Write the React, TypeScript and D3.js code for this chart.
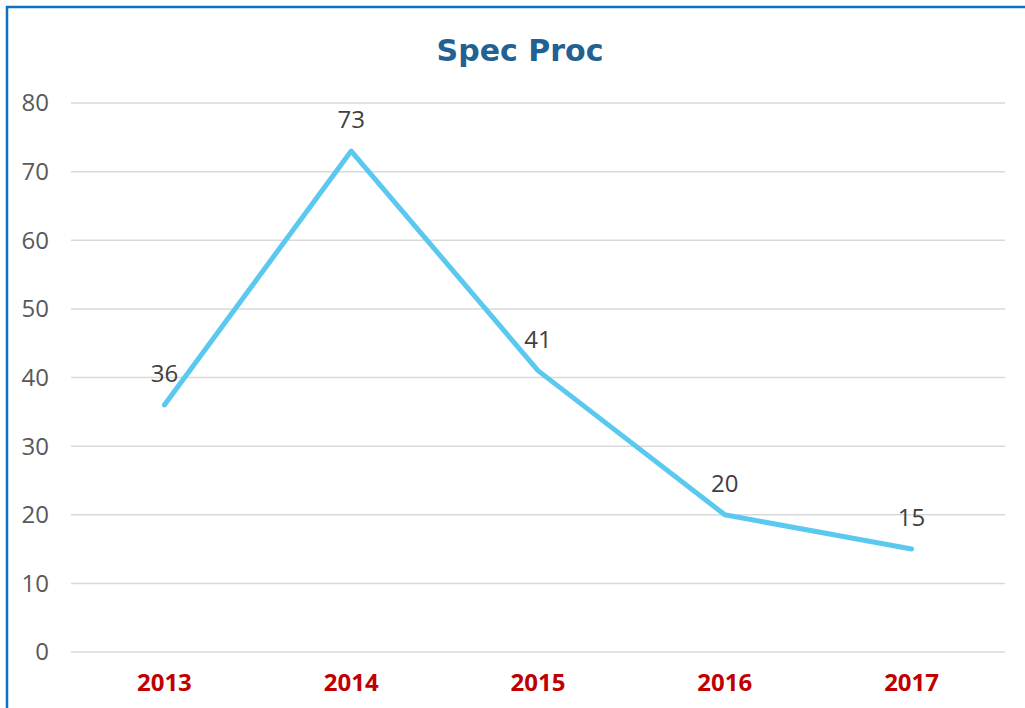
import React from "react";
import * as d3 from "d3";

const categories = ["2013", "2014", "2015", "2016", "2017"];
const values = [36, 73, 41, 20, 15];
const yTicks = [0, 10, 20, 30, 40, 50, 60, 70, 80];
const title = "Spec Proc";

const W = 1025;
const H = 708;

export default function App() {
  const x = d3.scaleBand<string>().domain(categories).range([71, 1005]);
  const y = d3.scaleLinear().domain([0, 80]).range([652, 103]);
  const cx = (c: string) => (x(c) as number) + x.bandwidth() / 2;
  const line = d3
    .line<number>()
    .x((_, i) => cx(categories[i]))
    .y((d) => y(d));

  const numFont = "'Open Sans', 'Noto Sans', sans-serif";

  return (
    <svg
      width={W}
      height={H}
      style={{ position: "absolute", left: 0, top: 0, background: "#fff" }}
    >
      <rect x={0} y={0} width={W} height={H} fill="#fff" />
      <path
        d={`M7,${H + 10} L7,7 L${W + 10},7`}
        fill="none"
        stroke="#0B74C8"
        strokeWidth={2.5}
      />
      <text
        x={520}
        y={61}
        textAnchor="middle"
        fontFamily="'DejaVu Sans', sans-serif"
        fontWeight="bold"
        fontSize={30}
        fill="#236192"
      >
        {title}
      </text>
      {yTicks.map((t) => (
        <g key={t}>
          <line
            x1={71}
            x2={1005}
            y1={y(t)}
            y2={y(t)}
            stroke="#d9d9d9"
            strokeWidth={1.5}
          />
          <text
            x={49}
            y={y(t)}
            dy="0.35em"
            textAnchor="end"
            fontFamily={numFont}
            fontSize={24}
            fill="#595959"
          >
            {t}
          </text>
        </g>
      ))}
      {categories.map((c) => (
        <text
          key={c}
          x={cx(c)}
          y={691}
          textAnchor="middle"
          fontFamily={numFont}
          fontWeight="bold"
          fontSize={24}
          fill="#C00000"
        >
          {c}
        </text>
      ))}
      <path
        d={line(values) as string}
        fill="none"
        stroke="#5BC9EF"
        strokeWidth={5}
        strokeLinecap="round"
        strokeLinejoin="round"
      />
      {values.map((v, i) => (
        <text
          key={i}
          x={cx(categories[i])}
          y={y(v) - 23}
          textAnchor="middle"
          fontFamily={numFont}
          fontSize={24}
          fill="#404040"
        >
          {v}
        </text>
      ))}
    </svg>
  );
}
